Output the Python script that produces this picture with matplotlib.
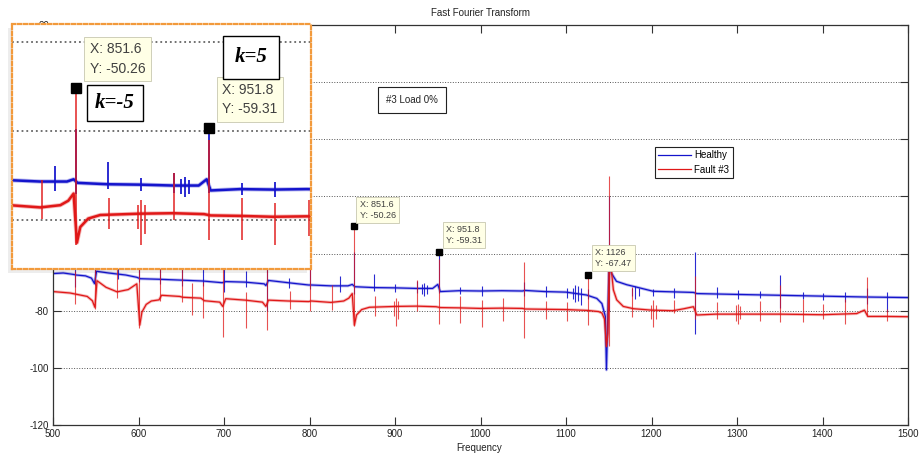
from __future__ import annotations

import matplotlib

matplotlib.use("Agg")

import matplotlib.pyplot as plt
from matplotlib.patches import Rectangle


plt.rcParams["font.family"] = ["Liberation Sans", "DejaVu Sans"]
plt.rcParams["axes.unicode_minus"] = False

BLUE = "#1414cc"
RED = "#e01818"
TEXT_COLOUR = "#222222"
TIP_FACE = "#ffffe6"
TIP_EDGE = "#c8c8b0"
ORANGE = "#f29a3c"

FIG_W, FIG_H = 922, 454


# Healthy (blue) noise floor, knots (Hz, dB)
healthy_freq = [
    500, 512, 524, 527, 538, 545, 548.5, 551, 565, 585, 598, 602, 625, 650,
    675, 698, 702, 725, 747, 749, 752, 775, 799, 802, 825, 845, 850, 853,
    875, 900, 925, 944, 950, 953, 975, 1000, 1025, 1049, 1052, 1075, 1100,
    1124, 1136, 1142, 1146, 1147.3, 1148.6, 1150.5, 1153, 1159, 1171, 1186,
    1202, 1225, 1249, 1253, 1300, 1350, 1400, 1450, 1500,
]
healthy_level = [
    -67.0, -66.8, -67.3, -67.5, -67.8, -68.6, -70.5, -66.2, -66.8, -67.5,
    -68.3, -68.8, -69.0, -69.3, -69.6, -70.2, -69.8, -70.0, -70.6, -71.2,
    -69.4, -70.2, -71.0, -71.0, -71.3, -71.3, -70.8, -71.6, -71.9, -72.0,
    -72.2, -72.2, -70.8, -73.3, -73.0, -73.1, -73.0, -73.1, -72.9, -73.3,
    -73.5, -74.5, -75.7, -77.5, -82.0, -100.7, -86.0, -62.0, -66.8, -69.7,
    -70.9, -72.0, -73.2, -73.4, -73.6, -74.0, -74.3, -74.6, -74.9, -75.2,
    -75.4,
]

# Fault #3 (red) noise floor
fault_freq = [
    500, 520, 540, 546, 549, 551.5, 562, 575, 588, 598, 601.5, 604, 609, 615,
    624, 627, 648, 652, 673, 677, 695, 698.5, 702, 725, 745, 749, 752, 775,
    799, 802, 825, 840, 846, 850, 852.5, 855, 861, 870, 900, 925, 948, 953,
    975, 1000, 1025, 1049, 1052, 1075, 1100, 1125, 1138, 1142, 1145, 1147.3,
    1149, 1150.8, 1153.4, 1155.4, 1159.3, 1167, 1179, 1200, 1225, 1238, 1249,
    1253, 1275, 1300, 1350, 1400, 1440, 1449, 1453, 1475, 1500,
]
fault_level = [
    -73.3, -73.8, -75.0, -76.5, -78.8, -69.5, -71.8, -73.4, -72.6, -70.6,
    -85.0, -80.5, -77.8, -76.6, -76.2, -74.6, -75.0, -75.3, -75.6, -76.5,
    -77.0, -78.5, -75.8, -76.3, -77.0, -78.5, -76.3, -76.6, -76.8, -76.6,
    -77.1, -76.6, -75.6, -74.0, -85.0, -81.5, -79.6, -78.8, -78.5, -78.4,
    -78.6, -78.9, -79.0, -79.2, -79.1, -79.2, -79.4, -79.5, -79.6, -79.9,
    -80.3, -80.8, -82.9, -92.5, -88.0, -60.0, -66.8, -72.7, -76.2, -78.5,
    -79.3, -79.8, -80.0, -79.3, -78.6, -81.5, -81.2, -81.2, -81.2, -81.4,
    -81.0, -79.8, -82.0, -82.0, -82.1,
]

# Narrow spectral lines: frequency, top and bottom of each spike (dB)
healthy_spike_freq = [
    525.5, 549.5, 575.5, 600.5, 625.5, 650.5, 675.5, 699.5, 725.5, 750.5,
    775.5, 800.5, 836, 851.6, 876, 900.5, 925.5, 931, 934, 937, 951.8, 976.5,
    1001.4, 1051, 1076.6, 1100.8, 1108, 1111, 1114, 1117, 1126, 1150.3, 1177,
    1181, 1185, 1202, 1226.3, 1250.9, 1276.2, 1301.5, 1327, 1350.3, 1377.5,
    1401, 1426.3, 1451.7, 1475.8,
]
healthy_spike_top = [
    -60, -50, -61, -52, -63, -55, -63, -54, -66, -56,
    -68.5, -58, -67.8, -59.6, -67, -70.5, -69.5, -70.8, -70.2, -71, -59.31, -71.6,
    -71.5, -70, -71.5, -72, -72, -71, -71.5, -72, -72.5, -40, -72,
    -71.5, -72, -72.3, -72, -59.4, -71.8, -72.8, -73, -67.5, -73.5,
    -73.8, -73.5, -72, -73.5,
]
healthy_spike_bottom = [
    -71.6, -71, -69, -70, -70.5, -71.5, -71.2, -73.3, -71.8, -80,
    -72, -72.5, -73.5, -74, -73, -73.5, -73.8, -74.2, -74.8, -74, -73.8, -74.3,
    -74.8, -75, -75.2, -75.5, -76, -77, -76.5, -78, -76, -80, -75,
    -75.8, -75, -75, -75.5, -88, -75.5, -75.8, -75.6, -79, -76,
    -76.2, -77, -77.5, -80.5,
]

fault_spike_freq = [
    525.5, 549.5, 575.2, 600.5, 625.3, 650.5, 662.5, 675.8, 699.2, 725.7,
    750.5, 777, 800.6, 826.5, 851.6, 876.6, 898.5, 901, 903.5, 925.6, 951.8,
    976.5, 1001.4, 1026.7, 1051, 1076.6, 1100.8, 1126, 1150.3, 1176.8, 1199,
    1202, 1205, 1226.3, 1250.9, 1276.2, 1299, 1301.5, 1304, 1327, 1350.3,
    1377.5, 1401, 1426.3, 1451.7, 1475.8,
]
fault_spike_top = [
    -66, -55, -65, -56, -64.5, -60, -70.4, -69.8, -62, -73.3,
    -64, -73, -63, -71, -50.26, -75, -76.5, -75.5, -76.5, -69.3, -62,
    -75, -76.2, -75.5, -62.8, -76.5, -77, -67.47, -33, -71.6, -78,
    -76.2, -78, -76.2, -68, -77, -78, -77.5, -78.5, -76.5, -71,
    -76, -77.5, -76, -68.1, -79.5,
]
fault_spike_bottom = [
    -77.5, -79.5, -75.6, -86, -76.5, -76.8, -81.5, -82.5, -89.1, -86.2,
    -86.7, -79.5, -80, -79.7, -85.5, -82, -82, -85.5, -83, -80, -84.5,
    -84.3, -85.6, -83.5, -89.7, -83, -83.5, -85, -92.5, -82.1, -83,
    -85.6, -83, -80.8, -83, -83, -83.5, -84.5, -83, -83.5, -84,
    -84, -83, -84.5, -82, -83.5,
]

# Data cursors placed on the chart
datatip_freq = [851.6, 951.8, 1126]
datatip_level = [-50.26, -59.31, -67.47]

x_ticks = [500, 600, 700, 800, 900, 1000, 1100, 1200, 1300, 1400, 1500]
y_ticks = [-120, -100, -80, -60, -40, -20, 0, 20]
inset_grid = [-80, -60, -40]


def _fig_box(left: float, top: float, right: float, bottom: float) -> list[float]:
    """Pixel box (from top-left corner) -> figure fraction rect."""
    return [
        left / FIG_W,
        1 - bottom / FIG_H,
        (right - left) / FIG_W,
        (bottom - top) / FIG_H,
    ]


def _draw_traces(ax, base_lw: float, spike_lw: float, fuzz: float):
    # soft wide stroke under each floor mimics the noisy trace
    ax.plot(healthy_freq, healthy_level, color=BLUE, lw=base_lw * fuzz, alpha=0.3)
    line_h, = ax.plot(healthy_freq, healthy_level, color=BLUE, lw=base_lw)
    ax.vlines(healthy_spike_freq, healthy_spike_bottom, healthy_spike_top,
              color=BLUE, lw=spike_lw, alpha=0.9)

    ax.plot(fault_freq, fault_level, color=RED, lw=base_lw * fuzz, alpha=0.3)
    line_f, = ax.plot(fault_freq, fault_level, color=RED, lw=base_lw)
    ax.vlines(fault_spike_freq, fault_spike_bottom, fault_spike_top,
              color=RED, lw=spike_lw, alpha=0.75)

    return line_h, line_f


def _datatip(ax, x: float, y: float, size: float, offset: tuple[float, float],
             pad: float, linespacing: float, marker_size: float) -> None:
    ax.plot([x], [y], "s", color="black", ms=marker_size, zorder=6)
    ax.annotate(
        f"X: {x:g}\nY: {y:g}",
        xy=(x, y),
        xytext=offset,
        textcoords="offset pixels",
        ha="left",
        va="bottom",
        fontsize=size,
        color="#404040",
        linespacing=linespacing,
        bbox=dict(boxstyle=f"square,pad={pad}", fc=TIP_FACE, ec=TIP_EDGE, lw=0.6),
        zorder=7,
    )


fig = plt.figure(figsize=(FIG_W / 100, FIG_H / 100), dpi=100)
fig.patch.set_facecolor("white")

# ---- main axes -------------------------------------------------------------
ax = fig.add_axes(_fig_box(53, 25, 908, 425))
line_h, line_f = _draw_traces(ax, base_lw=0.9, spike_lw=0.8, fuzz=2.4)

ax.set_xlim(500, 1500)
ax.set_ylim(-120, 20)
ax.set_xticks(x_ticks)
ax.set_yticks(y_ticks)
ax.tick_params(direction="in", length=5.5, width=0.8, top=True, right=True,
               labelsize=7, pad=3, colors="#333333", labelcolor=TEXT_COLOUR)
ax.yaxis.grid(True, linestyle=":", color="#555555", lw=0.7)
for spine in ax.spines.values():
    spine.set_color("#333333")
    spine.set_linewidth(0.9)

offsets = [(6, 6), (7, 7), (7, 7)]
for i in range(len(datatip_freq)):
    _datatip(ax, datatip_freq[i], datatip_level[i], size=6.5, offset=offsets[i],
             pad=0.35, linespacing=1.25, marker_size=4.2)

ax.text(920, -6.3, "#3 Load 0%", fontsize=7, ha="center", va="center",
        color=TEXT_COLOUR,
        bbox=dict(boxstyle="square,pad=0.8", fc="white", ec="#222222", lw=0.8))

ax.legend(
    [line_h, line_f],
    ["Healthy", "Fault #3"],
    loc="upper left",
    bbox_to_anchor=(0.704, 0.695),
    fontsize=7,
    frameon=True,
    fancybox=False,
    edgecolor="#222222",
    framealpha=1,
    handlelength=3.4,
    handletextpad=0.3,
    labelspacing=0.45,
    borderpad=0.35,
    borderaxespad=0,
).get_frame().set_linewidth(0.8)

fig.text(480.5 / FIG_W, 1 - 13 / FIG_H, "Fast Fourier Transform",
         ha="center", va="center", fontsize=7, color=TEXT_COLOUR)
fig.text(479 / FIG_W, 1 - 448 / FIG_H, "Frequency",
         ha="center", va="center", fontsize=7, color=TEXT_COLOUR)

# ---- zoomed inset (pasted screenshot look) ---------------------------------
shadow = Rectangle((8 / FIG_W, 1 - 273 / FIG_H), 299 / FIG_W, 245 / FIG_H,
                   transform=fig.transFigure, facecolor="black", alpha=0.07,
                   edgecolor="none", zorder=2)
fig.add_artist(shadow)

axins = fig.add_axes(_fig_box(12, 24, 311, 269), zorder=3)
axins.set_facecolor("white")
_draw_traces(axins, base_lw=1.8, spike_lw=1.4, fuzz=1.7)
axins.set_xlim(803.7, 1028.4)
axins.set_ylim(-90.9, -36)
axins.set_xticks([])
axins.set_yticks(inset_grid)
axins.tick_params(left=False, bottom=False, labelleft=False, labelbottom=False)
axins.yaxis.grid(True, linestyle=":", color="#666666", lw=1.3)
for spine in axins.spines.values():
    spine.set_color(ORANGE)
    spine.set_linestyle((0, (1.5, 1.2)))
    spine.set_linewidth(1.6)

inset_offsets = [(14, 12), (13, 12)]
for i in range(2):
    _datatip(axins, datatip_freq[i], datatip_level[i], size=10,
             offset=inset_offsets[i], pad=0.4, linespacing=1.5, marker_size=7)

k_style = dict(fontsize=15, fontweight="bold", fontstyle="italic",
               family=["Liberation Serif", "DejaVu Serif"], ha="center",
               va="center", transform=axins.transAxes, zorder=8)
axins.text(0.344, 0.678, "k=-5",
           bbox=dict(boxstyle="square,pad=0.4", fc="white", ec="black", lw=1.0),
           **k_style)
axins.text(0.799, 0.865, "k=5",
           bbox=dict(boxstyle="square,pad=0.55", fc="white", ec="black", lw=1.0),
           **k_style)

fig.savefig("out.png", dpi=100, facecolor="white")
